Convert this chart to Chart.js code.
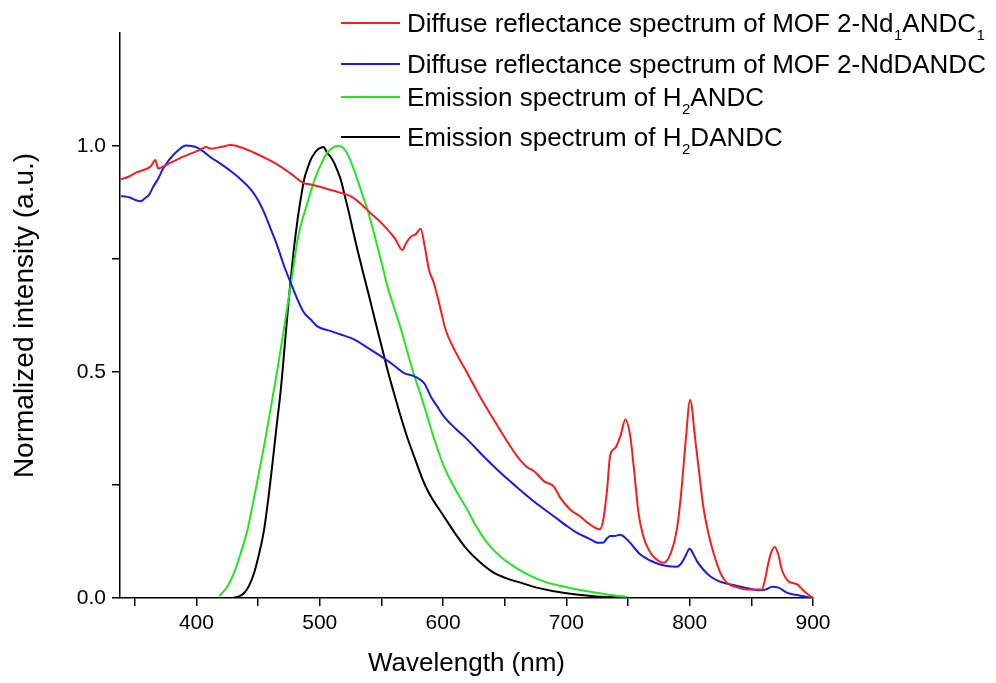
<!DOCTYPE html>
<html><head><meta charset="utf-8">
<script src="https://cdn.jsdelivr.net/npm/chart.js@4.4.1/dist/chart.umd.min.js"></script>
<style>html,body{margin:0;padding:0;background:#fff;}#wrap{width:996px;height:683px;position:relative;}</style>
</head><body><div id="wrap"><canvas id="c" width="996" height="683"></canvas></div>
<script>
// ---- data ----
const xTicks = [350, 400, 450, 500, 550, 600, 650, 700, 750, 800, 850, 900];
const yTicks = [0, 0.25, 0.5, 0.75, 1.0];
const labels = [
  'Diffuse reflectance spectrum of MOF 2-Nd\u2081ANDC\u2081',
  'Diffuse reflectance spectrum of MOF 2-NdDANDC',
  'Emission spectrum of H\u2082ANDC',
  'Emission spectrum of H\u2082DANDC'
];
const redX = [338,345,351,357,363,366.6,369,374,379,388,398,404,407.7,412,420,428,437,446.8,456,465.7,476,487,492.7,500,506,515,525,533,541,548,555,561,567,570,573.7,578,581.8,585,588.5,592.5,597,602,610,619.6,630,641,650,660,668,673.5,676,682,689.7,695,703,711,718,727,730,733,735.6,739.7,744,747.8,751.8,755,758.5,762,766.7,772,778.8,784,789.6,793,796.4,800.4,804.5,808,811,815,819.3,825,830,838,846.3,858.5,861,863.8,866,869,872,874.7,880,884,887.3,891,895,900];
const redY = [0.926,0.932,0.941,0.947,0.955,0.969,0.950,0.956,0.963,0.975,0.986,0.993,0.998,0.994,0.998,1.002,0.996,0.985,0.973,0.959,0.940,0.918,0.915,0.910,0.905,0.898,0.889,0.873,0.852,0.835,0.815,0.795,0.770,0.785,0.799,0.805,0.817,0.780,0.727,0.697,0.650,0.594,0.545,0.498,0.445,0.395,0.355,0.314,0.290,0.281,0.275,0.258,0.247,0.222,0.196,0.181,0.165,0.152,0.174,0.240,0.317,0.332,0.360,0.395,0.358,0.280,0.188,0.140,0.107,0.088,0.078,0.095,0.152,0.230,0.336,0.438,0.351,0.270,0.203,0.145,0.100,0.055,0.034,0.024,0.019,0.019,0.040,0.078,0.100,0.113,0.095,0.063,0.037,0.033,0.030,0.020,0.010,0.0];
const blueX = [338.9,343,347,351,355,358,361.8,365,368.6,373,378,385,391.5,396,401,406,412,420,428,436,444,450,455,460,465.7,471,476.5,482,487.3,492.7,498,507,517,527.8,538,549.4,560,568,576.4,581,585,590,595,600.6,610,619.6,633,646.6,660,673.5,689.7,700,708.7,718,726,729.7,733,735.6,739,743.7,747,751.8,756,760,768,776,783,789.6,793,796.4,800,803,806,811,816.6,823,830,843,857,862,866.6,872,878.7,888,900];
const blueY = [0.889,0.888,0.885,0.880,0.878,0.884,0.893,0.910,0.926,0.950,0.970,0.990,1.001,1.000,0.996,0.987,0.974,0.960,0.944,0.926,0.904,0.880,0.852,0.818,0.778,0.735,0.697,0.660,0.631,0.616,0.601,0.592,0.583,0.572,0.555,0.535,0.515,0.498,0.491,0.484,0.474,0.446,0.425,0.402,0.375,0.351,0.313,0.277,0.245,0.214,0.181,0.160,0.144,0.132,0.122,0.122,0.132,0.137,0.137,0.140,0.135,0.122,0.108,0.096,0.083,0.074,0.070,0.069,0.076,0.092,0.109,0.097,0.081,0.063,0.048,0.038,0.032,0.024,0.017,0.019,0.025,0.023,0.012,0.006,0.0];
const greenX = [418.5,425,430.6,436,441.5,445.5,449.6,453.7,457.7,461.7,465.7,469.8,473.8,478,482,486,490,494,498,502,506,510,514,518,522,526,530.5,534.5,538.6,542.7,546.7,550.8,554.8,560,565.6,571,576.4,581.8,587.2,593,600.6,610,619.6,627,635.8,646,657.3,670,684.4,695,705,716.8,728,738,749];
const greenY = [0.004,0.025,0.056,0.100,0.152,0.205,0.262,0.320,0.380,0.443,0.506,0.575,0.646,0.720,0.793,0.838,0.874,0.910,0.941,0.965,0.985,0.995,1.000,0.998,0.985,0.960,0.926,0.893,0.860,0.820,0.778,0.735,0.690,0.645,0.597,0.545,0.494,0.450,0.402,0.350,0.292,0.240,0.196,0.158,0.122,0.093,0.070,0.050,0.034,0.027,0.021,0.015,0.010,0.006,0.003];
const blackX = [429.3,435,438.7,442.8,446.8,451,454.9,458.3,461.7,465,468.4,471.8,475.1,478.5,482,485,487.3,490,492.7,496,498.5,500.8,503,506,509,511.6,514,517,520,523.7,527,530.5,534.5,538.6,542.7,546.7,550.8,554.8,560,565.6,571,576.4,584.5,590,600.6,610,619.6,630,641,652,662.8,676,689.7,705,722,735,750];
const blackY = [0.0,0.004,0.011,0.028,0.056,0.100,0.152,0.220,0.299,0.380,0.461,0.565,0.668,0.760,0.837,0.890,0.926,0.950,0.970,0.985,0.993,0.996,0.998,0.985,0.975,0.963,0.948,0.926,0.893,0.852,0.812,0.771,0.727,0.683,0.638,0.594,0.550,0.506,0.455,0.402,0.355,0.314,0.255,0.225,0.181,0.142,0.107,0.079,0.056,0.043,0.034,0.023,0.015,0.009,0.004,0.002,0.0];

const colors = ['#ff1a1a', '#1a1aee', '#1ee81e', '#000000'];
const FONT = "'Liberation Sans', Arial, sans-serif";

function pts(xs, ys) { return xs.map((x, i) => ({x: x, y: ys[i]})); }

const series = [[redX, redY], [blueX, blueY], [greenX, greenY], [blackX, blackY]];
const datasets = series.map((s, i) => ({
  label: labels[i],
  data: pts(s[0], s[1]),
  borderColor: colors[i],
  borderWidth: 2,
  pointRadius: 0,
  fill: false,
  cubicInterpolationMode: 'monotone'
}));

// Legend with real subscripts
const subMap = {'\u2080':'0','\u2081':'1','\u2082':'2','\u2083':'3','\u2084':'4'};
const legendPlugin = {
  id: 'subLegend',
  afterDraw(chart) {
    const ctx = chart.ctx;
    const rowsY = [23, 64, 97, 137];
    const lineX0 = 341, lineX1 = 400, textX = 407;
    ctx.save();
    chart.data.datasets.forEach((ds, i) => {
      const y = rowsY[i];
      ctx.strokeStyle = ds.borderColor;
      ctx.lineWidth = 2;
      ctx.beginPath(); ctx.moveTo(lineX0, y); ctx.lineTo(lineX1, y); ctx.stroke();
      let x = textX;
      ctx.fillStyle = '#000';
      ctx.textBaseline = 'alphabetic';
      ctx.textAlign = 'left';
      const base = y + 9;
      let buf = '';
      const flush = () => {
        if (!buf) return;
        ctx.font = '26px ' + FONT;
        ctx.fillText(buf, x, base);
        x += ctx.measureText(buf).width;
        buf = '';
      };
      for (const ch of ds.label) {
        if (subMap[ch] !== undefined) {
          flush();
          ctx.font = '15px ' + FONT;
          ctx.fillText(subMap[ch], x + 0.5, base + 8);
          x += ctx.measureText(subMap[ch]).width + 0.5;
        } else buf += ch;
      }
      flush();
    });
    ctx.restore();
  }
};

new Chart(document.getElementById('c'), {
  type: 'line',
  data: { datasets: datasets },
  plugins: [legendPlugin],
  options: {
    responsive: false,
    devicePixelRatio: 1,
    animation: false,
    layout: { padding: { left: 0, top: 33, right: 183, bottom: 0 } },
    plugins: { legend: { display: false }, tooltip: { enabled: false } },
    scales: {
      x: {
        type: 'linear',
        min: 338, max: 900,
        afterFit: s => { s.height = 85; },
        afterBuildTicks: s => { s.ticks = xTicks.map(v => ({value: v})); },
        grid: { drawOnChartArea: false, drawTicks: true, tickLength: 8, color: '#000', lineWidth: 1.5 },
        border: { display: true, color: '#000', width: 1.5 },
        ticks: {
          color: '#000', padding: 5, maxRotation: 0, autoSkip: false,
          font: { family: FONT, size: 21 },
          callback: v => (v % 100 === 0 ? String(v) : '')
        },
        title: { display: true, text: 'Wavelength (nm)', color: '#000', font: { family: FONT, size: 26 }, padding: { top: 2 } }
      },
      y: {
        type: 'linear',
        min: 0, max: 1.25,
        afterFit: s => { s.width = 120; },
        afterBuildTicks: s => { s.ticks = yTicks.map(v => ({value: v})); },
        grid: { drawOnChartArea: false, drawTicks: true, tickLength: 8, color: '#000', lineWidth: 1.5 },
        border: { display: true, color: '#000', width: 1.5 },
        ticks: {
          color: '#000', padding: 6, autoSkip: false,
          font: { family: FONT, size: 21 },
          callback: v => (Math.abs(v * 2 - Math.round(v * 2)) < 1e-9 ? v.toFixed(1) : '')
        },
        title: { display: true, text: 'Normalized intensity (a.u.)', color: '#000', font: { family: FONT, size: 28 }, padding: { top: 8, bottom: 0 } }
      }
    }
  }
});
</script></body></html>
